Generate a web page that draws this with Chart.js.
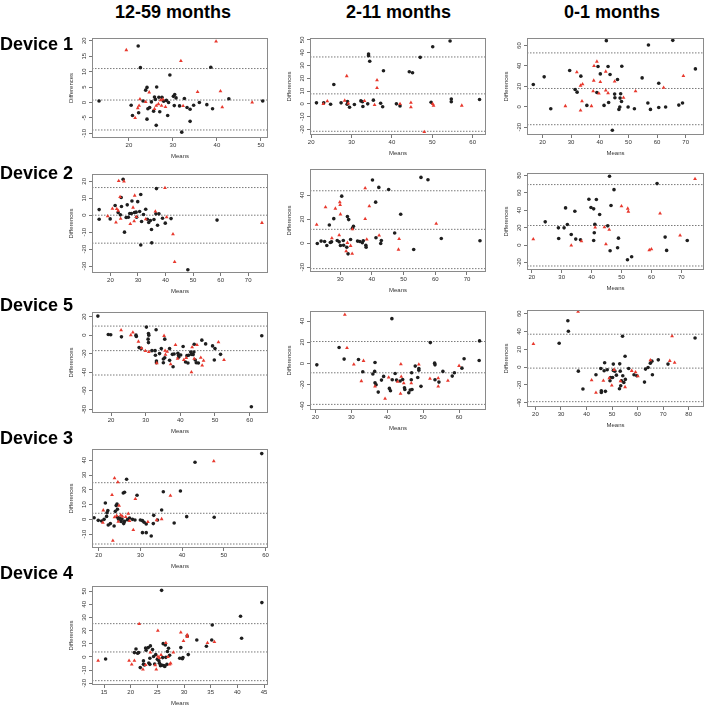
<!DOCTYPE html>
<html>
<head>
<meta charset="utf-8">
<script src="https://cdn.jsdelivr.net/npm/chart.js@4.4.1/dist/chart.umd.min.js"></script>
<style>
  body { margin: 0; background: #fff; width: 707px; height: 709px; position: relative; overflow: hidden;
         font-family: "Liberation Sans", Arial, sans-serif; }
  .lbl { position: absolute; font-weight: bold; font-size: 18px; color: #000; white-space: nowrap; z-index: 2; line-height: 20px; }
  canvas { position: absolute; z-index: 1; }
</style>
</head>
<body>
<div class="lbl" style="left:115px;top:2px">12-59 months</div>
<div class="lbl" style="left:346px;top:2px">2-11 months</div>
<div class="lbl" style="left:564px;top:2px">0-1 months</div>
<div class="lbl" style="left:0px;top:34px">Device 1</div>
<div class="lbl" style="left:0px;top:163px">Device 2</div>
<div class="lbl" style="left:0px;top:295px">Device 5</div>
<div class="lbl" style="left:0px;top:428px">Device 3</div>
<div class="lbl" style="left:0px;top:563px">Device 4</div>
<script>
// ---- data: [mean, difference] pairs, limits of agreement, tick values ----
// Device 1, 12-59 months
var d1a_black = [[22.1,18.3],[22.6,11.3],[38.6,11.4],[29.3,8.9],[24.1,4.9],[26.3,5],[13.2,0.5],[20.5,-0.9],[20.8,-4.2],[22.2,-3.3],[23.8,4],[23.2,0.5],[24.7,-1.6],[24.1,-5.4],[25.6,-2.8],[26,1],[26.2,-7.4],[25.8,1.8],[26.8,1.7],[27.5,1.7],[27.9,0.4],[28.5,0.7],[28.8,-4.2],[29,0],[30.1,2],[30.4,2.6],[30.7,1.5],[30.3,-1],[31.5,-1.1],[32,-9.6],[32.6,1.3],[33.2,-1.6],[33.9,-2.2],[33.9,-6.1],[34.7,-0.9],[36,0],[37.7,-0.7],[39,-2],[42.7,1.2],[50.4,0.5],[24.3,-2],[25.1,0.2],[27,-3]]
var d1a_red = [[19.4,17],[39.8,19.8],[31.8,13.5],[35.6,3.4],[40.8,3.7],[22.5,1.1],[24.6,3.3],[22.3,-1],[22,-1.8],[21.4,-5],[25.8,-2.1],[26.7,-0.5],[27.2,0.8],[27.4,-1],[28.3,-1.4],[27.7,1],[32.3,-1.1],[41.2,-1.5],[48,0],[23.8,0.2],[26.2,-1]]
var d1a_loa = [11.0, 0.8, -8.9]
var d1a_xt = [20, 30, 40, 50]
var d1a_yt = [-10, -5, 0, 5, 10, 15, 20]

// Device 1, 2-11 months
var d1b_black = [[54.4,49.1],[34.2,38.9],[34.2,37.6],[34.5,33.2],[37.9,25.8],[44.3,25.1],[45.1,24.3],[47,36.3],[50.1,44.6],[25.6,15.1],[21.3,0.8],[23.1,0.8],[24.8,-0.3],[27.4,0.8],[29,1.8],[28.9,-0.3],[29.5,-2.6],[30.7,-0.5],[32.3,2.3],[32.7,1.6],[32.8,-2.1],[34,0],[35.4,2.9],[37.2,0.5],[37.7,-2.3],[41.1,0],[42,-1.6],[49.7,1.3],[54.7,3.7],[54.7,1.6],[61.7,3.4]]
var d1b_red = [[28.8,21.7],[36.3,18.5],[36.3,12.5],[28.3,2.6],[24,2.1],[23,0],[33.2,2.3],[35.7,-0.8],[42,0],[44.7,1],[44.7,-2.6],[50.1,0],[50.3,-1.3],[48,-21.9],[57.3,-1.3],[29.2,0.3]]
var d1b_loa = [36.6, 7.8, -21.4]
var d1b_xt = [20, 30, 40, 50, 60]
var d1b_yt = [-20, -10, 0, 10, 20, 30, 40, 50]

// Device 1, 0-1 months
var d1c_black = [[42.3,64.8],[57,60.6],[65.5,65.1],[73.4,37.1],[29.5,35.5],[20.6,29.3],[16.8,21.8],[22.9,-2],[31.4,16.9],[32.1,14.3],[33.4,30],[35.5,1.3],[39,14],[40.2,32.2],[39.4,39.4],[43.6,31.6],[42.9,39.4],[41.5,1.3],[43.1,4.2],[45.2,12.4],[45.3,8.8],[46.2,26.7],[46.7,-2.6],[47,-0.3],[47.1,8.5],[47.3,12.7],[47.6,5.2],[47.7,39.7],[49.9,-0.3],[52.1,-2],[54.8,28.3],[56.8,3.6],[57.7,-2.6],[60.6,23.1],[60.6,-0.7],[63,-0.3],[67.6,1.6],[68.9,3.6],[44.4,-23]]
var d1c_red = [[32,33.9],[33.3,20.8],[34,22.1],[28,0.7],[33.8,5.5],[33.3,-3.6],[37.1,0.7],[37.7,15.3],[37.9,25.7],[38,40.1],[39,44.3],[39.7,13],[40.2,24.4],[42.1,34.5],[42.1,16],[42.9,13.4],[45.2,24.8],[48.3,8.8],[52.5,15.3],[62.3,18.6],[69.2,30.3]]
var d1c_loa = [52.8, 17.9, -17.6]
var d1c_xt = [20, 30, 40, 50, 60, 70]
var d1c_yt = [-20, 0, 20, 40, 60]

// Device 2, 12-59 months
var d2a_black = [[24.6,21.2],[15.9,3.3],[15.9,-2.4],[21.7,5.7],[24,5.1],[26.1,6.1],[27.8,8.4],[29.9,8],[31,12.2],[23.6,0.2],[22.8,1.6],[25.7,-1.4],[26.5,-1.2],[27,1],[27.6,1],[28.7,1.6],[29.3,1.8],[29.5,-1.2],[30.6,2.2],[31.3,-3.7],[32,0.4],[32.8,3.5],[33.4,-2.4],[33.9,-4.3],[34.5,-3.1],[34.9,-8.4],[35,-16.3],[35.8,-2.5],[36.5,0.8],[36.7,15.7],[37.1,-5.9],[37.6,0.8],[38.9,-1.8],[39.9,-4.7],[42,-2],[31,-17.6],[25.1,-10],[48.1,-32.2],[58.7,-2.9],[23.9,10.4],[19.9,-2.2]]
var d2a_red = [[23,20.2],[24.9,20],[23.5,10.8],[28.8,11.6],[39.8,16.1],[20.7,3.9],[22.3,3.7],[19,-0.6],[22,-4.3],[23.7,-2],[28.2,4.5],[28.6,-3.5],[27.2,-5.1],[29.4,-1],[32.8,-2.4],[36.3,2.2],[40.4,-1.2],[42.7,-11.2],[43.3,-27.6],[75,-4.5],[22.8,2.7]]
var d2a_loa = [16.3, 0, -16.5]
var d2a_xt = [20, 30, 40, 50, 60, 70]
var d2a_yt = [-30, -20, -10, 0, 10, 20]

// Device 2, 2-11 months
var d2b_black = [[40.2,52.5],[55.5,54.7],[57.7,52.8],[42.2,46.4],[45.3,44.7],[30.5,39.1],[41.2,34.1],[49.1,24],[28,20.4],[26.6,15.1],[32.7,19.6],[32.3,22.1],[34.2,14],[33.9,12.3],[22.8,-0.3],[24,1.7],[25.1,1.4],[25.8,-2],[26.9,0.6],[27.3,1.1],[29.1,2.2],[29.7,1.1],[30.1,-2],[31,2.2],[31.1,-1.7],[32.1,-3.4],[32.5,-8.9],[33.3,3.1],[35.5,1.7],[36.2,1.4],[37,0.3],[37.3,2],[38.1,-1.7],[38.2,-3.4],[41.3,4.5],[42.8,-0.3],[43,2.2],[47.2,8.4],[53.2,-5.3],[61.9,3.9],[74.1,2]]
var d2b_red = [[37.9,45.8],[22.6,15.4],[25.4,29.9],[28.5,28.8],[29.9,34.1],[30,31.8],[30.1,24],[27.4,4.2],[29.7,6.7],[31.9,-6.7],[32.3,0.3],[33.3,-2.2],[33.8,-8.7],[33.9,11.7],[37.9,20.1],[39.2,30.7],[38.4,3.1],[42.3,6.4],[48.6,3.6],[48.4,-5.3],[60.3,16.2]]
var d2b_loa = [43.6, 11.5, -21.2]
var d2b_xt = [30, 40, 50, 60, 70]
var d2b_yt = [-20, 0, 20, 40]

// Device 2, 0-1 months
var d2c_black = [[46,79],[47.5,63.7],[61.9,70.6],[39.1,52.7],[41.6,52.3],[40.7,41.6],[42.7,35.1],[34.4,38.9],[31.3,42.7],[24.5,26.7],[28.9,19.8],[30.8,19.8],[31.9,23.7],[33.2,12.2],[34.7,6.9],[36.3,6.1],[29,7.6],[40.9,14.1],[40.7,5.3],[39.8,43.1],[41.1,24],[45.4,22.1],[46.2,-6.5],[49,8],[48.7,-3.1],[52,-16.8],[53.4,-13.4],[46.5,45.4],[64.6,9.2],[65.1,-6.1],[72,5.3]]
var d2c_red = [[74.6,76],[20.5,6.9],[33.2,-0.4],[36.6,4.6],[41.2,20.2],[44.3,20.6],[45.9,17.6],[44.8,1.1],[50,44.7],[52.1,42],[52.3,38.5],[62.9,36.3],[59.3,-5.7],[60,-4.6],[69.6,11.1]]
var d2c_loa = [69.5, 22.5, -24]
var d2c_xt = [20, 30, 40, 50, 60, 70]
var d2c_yt = [-20, 0, 20, 40, 60, 80]

// Device 5, 12-59 months
var d5a_black = [[16.2,20.6],[19.2,0.7],[19.9,0.4],[23,-1.8],[27.2,0],[27.3,-1.4],[30.2,8.7],[30.8,1.8],[30.9,0],[33,5.8],[28.1,-13.4],[28.7,-14.5],[30.7,-4.3],[30.8,-8],[31.8,-16.7],[32.7,-16.7],[32.8,-21.7],[33.1,-27.9],[33.1,-29.7],[34,-19.9],[34.5,-14.5],[35.1,-25.7],[35.1,-29.7],[35.5,-4.3],[35.5,-24.3],[36.9,-27.2],[36.9,-14.5],[37.7,-20.7],[37.9,-34.1],[38.2,-20.3],[39.5,-23.9],[39.5,-21.7],[40.1,-21.4],[40.8,-12.3],[41.5,-29],[41.9,-22.1],[42.2,-30.1],[42.4,-21.7],[43,-18.1],[43.2,-20.7],[43.7,-21],[43.9,-18.1],[44,-9.8],[44.3,-26.8],[44.6,-29.7],[45.2,-30.1],[46.2,-5.4],[47.3,-9.4],[49.3,-11.6],[49.8,-26.8],[50,-14.5],[51.6,-20.7],[60.5,-77.2],[63.5,-0.7],[39.3,-19.6]]
var d5a_red = [[22.9,5.4],[25.7,0],[26.3,2.9],[27.9,-6.9],[28.8,-14.1],[29.9,-17],[30.9,-18.1],[33.2,-30.1],[35.3,-0.7],[35.6,-16.7],[35.7,-21],[36.2,-17.8],[38.6,-10.5],[37.2,-31.2],[39.2,-25.4],[41.7,-24.6],[43.2,-39.9],[43.4,-13],[44,-25.4],[44.8,-10.5],[45.9,-24.3],[46.3,-32.6],[46.7,-27.5],[51,-7.6],[52.6,-26.8],[41,-26.8]]
var d5a_loa = [9.8, -16.7, -43]
var d5a_xt = [20, 30, 40, 50, 60]
var d5a_yt = [-80, -60, -40, -20, 0, 20]

// Device 5, 2-11 months
var d5b_black = [[41.3,42.3],[20.4,-1.3],[26.6,15],[28,4.1],[32,3.8],[33.2,-7.8],[36,-10],[36.6,0.9],[36.5,-7.5],[36.6,-18.2],[36.9,-20.1],[37.5,-27],[38.4,-15.7],[39,-12.2],[40.6,-23.5],[40.9,-25.7],[41.4,-15.4],[42.2,-9.4],[42.6,-15.7],[43.6,-16.6],[44.8,-22.9],[44.9,-24.5],[46,-27.6],[46.4,-25.1],[46.7,-15.4],[46.8,-8.8],[46.9,-24.5],[47.8,-2.5],[48.5,-13.2],[48.8,-6.3],[48.8,-4.7],[49.4,-21.6],[52,19.7],[53.2,0.3],[53.3,-1.3],[53.3,-15.4],[54.4,-17.6],[55.5,-7.5],[58.1,-11.9],[58.7,-8.8],[60.8,-4.4],[61.4,4.4],[65.6,2.8],[65.7,21.3],[44.3,-15.1]]
var d5b_red = [[28.2,46],[28.8,14.7],[30.7,-0.9],[33.4,2.5],[32.8,-16.6],[36.6,-21.6],[39.4,-33.2],[40.4,-13.2],[43.8,-0.6],[43.9,-12.5],[44.6,-18.5],[43.7,-28.5],[46.7,-18.5],[48.8,-0.9],[51.9,-14.4],[54.2,-13.8],[54.2,-21.6],[56.9,-16.3],[60,-2.2],[42.9,-17.2]]
var d5b_loa = [20.7, -8.8, -38.6]
var d5b_xt = [20, 30, 40, 50, 60]
var d5b_yt = [-40, -20, 0, 20, 40]

// Device 5, 0-1 months
var d5c_black = [[32.7,52.2],[32.9,40.3],[54.1,34.7],[29.3,26.9],[82.5,32.8],[55.1,12.3],[47.1,4.9],[50.5,3.4],[36.8,-4.5],[43.7,-8.6],[45.8,-28.4],[45.6,-1.5],[45.8,-26.5],[46.9,-4.1],[47.4,-27.2],[48.1,-3],[49.2,-15.3],[49.4,-11.6],[50.2,-11.6],[50.5,-3.7],[51.1,-4.5],[51.7,-9],[53,3.7],[53.2,-4.5],[53.7,-15.3],[53.4,-20.9],[52.9,-24.3],[54.2,-9.7],[54.6,-17.2],[55.2,-13.8],[56.5,-1.5],[58.6,-8.6],[59.7,-9.7],[62.7,-16.8],[63.1,-2.2],[64.1,-0.4],[65,4.5],[65.6,6.7],[65.8,-8.6],[68.1,8.2],[71.9,3.4],[38.6,-24.6]]
var d5c_red = [[36.7,62.3],[19.2,26.1],[73.5,34.7],[42,-14.6],[46.6,-15.3],[48.9,-12.3],[49.9,-20.5],[43.7,-28.7],[50.8,-3],[53.3,-15.7],[55.1,-22.4],[57.7,-4.1],[59.2,-5.6],[60.1,-10.1],[65,7.8],[72.6,7.1],[74.5,4.9]]
var d5c_loa = [37, -1.1, -38.8]
var d5c_xt = [20, 30, 40, 50, 60, 70, 80]
var d5c_yt = [-40, -20, 0, 20, 40, 60]

// Device 3, 12-59 months
var d3a_black = [[59.1,44.5],[43.1,38.6],[26.7,27.1],[21.6,11.1],[22.2,5.9],[22,4.5],[18.9,1.1],[19.9,-0.7],[20.7,-1.1],[21.3,0],[22.3,-3.8],[22.8,-2.9],[24,5.4],[24.2,9.3],[24.4,10.4],[24.5,6.8],[24.5,1.4],[24.8,0],[25.1,0.9],[25.4,-1.4],[25.6,0.2],[26,-2.9],[25.9,17.8],[26.2,18.3],[26.2,-1.4],[26.9,-0.2],[29.2,16.3],[28.1,0],[28.7,-0.5],[30,-0.5],[30.5,-0.9],[30.5,-9],[30.9,-2],[31.4,-3.2],[31.4,-9],[32.6,-11.3],[33.1,-2.9],[33.2,2.7],[34.1,-0.5],[35.1,6.3],[35.5,18.7],[38.1,-2.5],[39.6,19.2],[41.1,1.8],[47.7,1.4],[23.7,-4.5],[27.4,0.9],[21.9,2]]
var d3a_red = [[47.6,39.3],[23.8,27.8],[24.6,25.1],[23.2,16.5],[21.1,6.1],[21,-2.3],[23.4,-14.4],[23.8,1.4],[24.3,2.5],[24.7,-1.6],[24.9,9.3],[25.3,2.9],[25.7,2],[27.1,3.8],[27.4,-1.1],[28.3,-7.2],[28.8,13.8],[31.8,-1.8],[33.9,-0.5],[35.1,0.2],[37.2,16],[26.5,1.6]]
var d3a_loa = [24.8, 4.1, -16.7]
var d3a_xt = [20, 30, 40, 50, 60]
var d3a_yt = [-10, 0, 10, 20, 30, 40]

// Device 4, 12-59 months
var d4a_black = [[25.8,50.6],[44.6,41.3],[40.6,30.9],[35.3,24.3],[15.3,-1.5],[20.7,3.3],[21,6.1],[21.3,2.8],[21.5,3.3],[21.8,-8.1],[22.4,-3],[22.6,-6.1],[22.8,6.8],[22.9,5.1],[23.3,7.1],[23.4,-4.6],[23.6,-1],[23.7,8.4],[23.6,-5.6],[24.1,5.6],[24.3,0.3],[24.5,-5.3],[24.7,1.8],[25,-1.8],[25.3,-3],[25.4,-4.8],[25.6,-6.6],[25.8,-6.1],[26,-0.5],[26.1,10.1],[26.2,-6.6],[26.4,-7.3],[26.6,-0.3],[26.8,-5.6],[26.9,4.1],[27.1,6.6],[27.3,1.3],[29.2,-1],[29.4,7.1],[29.7,-1.3],[29.8,-0.5],[30.6,15.9],[30.8,1.8],[32.4,12.9],[34.2,8.1],[35.2,12.9],[40.8,14.2],[26.5,9.1],[22.4,-5.6]]
var d4a_red = [[13.9,-2.8],[19.7,-2.8],[20.2,-5.6],[20.7,-2.8],[21.6,25.1],[22.3,-9.4],[22.8,-6.1],[23.7,3.5],[24.6,-6.3],[24.8,-9.4],[25.1,20],[25.1,0.3],[25.4,-0.8],[25.7,1.5],[26.6,10.6],[27,0],[27.3,-5.6],[27.5,-4.8],[28,3.5],[29.4,18.7],[29.9,12.2],[30.6,16.7],[30.6,15.2],[34.4,10.6],[35.7,11.4]]
var d4a_loa = [25.3, 3.8, -18]
var d4a_xt = [15, 20, 25, 30, 35, 40, 45]
var d4a_yt = [-20, -10, 0, 10, 20, 30, 40, 50]

// ---- layout: plot box on the page [left, top, right, bottom] and axis ranges ----
var panels = [
  { box: [92, 38, 269, 138],  xr: [11.6, 51.6],  yr: [-11.5, 20.9], black: d1a_black, red: d1a_red, loa: d1a_loa, xt: d1a_xt, yt: d1a_yt },
  { box: [310, 38, 487, 135], xr: [19.7, 63.3],  yr: [-24.3, 51.4], black: d1b_black, red: d1b_red, loa: d1b_loa, xt: d1b_xt, yt: d1b_yt },
  { box: [527, 38, 705, 135], xr: [14.6, 76.4],  yr: [-27.7, 67.4], black: d1c_black, red: d1c_red, loa: d1c_loa, xt: d1c_xt, yt: d1c_yt },
  { box: [92, 174, 269, 273], xr: [13.3, 77.2],  yr: [-34.1, 24.3], black: d2a_black, red: d2a_red, loa: d2a_loa, xt: d2a_xt, yt: d2a_yt },
  { box: [310, 169, 487, 272], xr: [20.5, 76],   yr: [-24, 61.7],   black: d2b_black, red: d2b_red, loa: d2b_loa, xt: d2b_xt, yt: d2b_yt },
  { box: [527, 173, 705, 270], xr: [18.4, 77.6], yr: [-28.6, 82.8], black: d2c_black, red: d2c_red, loa: d2c_loa, xt: d2c_xt, yt: d2c_yt },
  { box: [92, 312, 269, 413], xr: [14.5, 65.3],  yr: [-84, 25],     black: d5a_black, red: d5a_red, loa: d5a_loa, xt: d5a_xt, yt: d5a_yt },
  { box: [310, 311, 487, 410], xr: [18.5, 67.5], yr: [-43.9, 49.5], black: d5b_black, red: d5b_red, loa: d5b_loa, xt: d5b_xt, yt: d5b_yt },
  { box: [527, 310, 705, 407], xr: [16.7, 86],   yr: [-44.8, 64.2], black: d5c_black, red: d5c_red, loa: d5c_loa, xt: d5c_xt, yt: d5c_yt },
  { box: [92, 449, 269, 548], xr: [18.4, 60.6],  yr: [-19.4, 47.6], black: d3a_black, red: d3a_red, loa: d3a_loa, xt: d3a_xt, yt: d3a_yt },
  { box: [92, 586, 269, 685], xr: [12.75, 45.75], yr: [-21.3, 53.9], black: d4a_black, red: d4a_red, loa: d4a_loa, xt: d4a_xt, yt: d4a_yt }
]

Chart.defaults.font.family = "'Liberation Sans', Arial, sans-serif"
Chart.defaults.font.size = 6
Chart.defaults.color = "#333"

// box around the plot region and R-style vertical y tick labels
var frame = {
  id: "frame",
  afterDatasetsDraw: function (chart) {
    var a = chart.chartArea, c = chart.ctx
    c.save()
    c.strokeStyle = "#8a8a8a"
    c.lineWidth = 1
    c.strokeRect(Math.round(a.left) + 0.5, Math.round(a.top) + 0.5, Math.round(a.right - a.left) - 1, Math.round(a.bottom - a.top) - 1)
    c.restore()
  },
  afterDraw: function (chart) {
    var s = chart.scales.y, c = chart.ctx
    c.save()
    c.font = "6px 'Liberation Sans', Arial, sans-serif"
    c.fillStyle = "#333"
    c.textAlign = "center"
    c.textBaseline = "middle"
    s.ticks.forEach(function (t) {
      c.save()
      c.translate(s.right - 8, s.getPixelForValue(t.value))
      c.rotate(-Math.PI / 2)
      c.fillText(String(t.value), 0, 0)
      c.restore()
    })
    c.restore()
  }
}

var padL = 30, padT = 4, padR = 3, padB = 26

function blandAltman (p) {
  var w = p.box[2] - p.box[0] + padL + padR
  var h = p.box[3] - p.box[1] + padT + padB
  var cv = document.createElement("canvas")
  cv.width = w
  cv.height = h
  cv.style.left = (p.box[0] - padL) + "px"
  cv.style.top = (p.box[1] - padT) + "px"
  cv.style.width = w + "px"
  cv.style.height = h + "px"
  document.body.appendChild(cv)

  var datasets = p.loa.map(function (v) {
    return {
      data: [[p.xr[0], v], [p.xr[1], v]],
      showLine: true,
      borderColor: "#7a7a7a",
      borderWidth: 1,
      borderDash: [1.5, 1.5],
      pointRadius: 0,
      order: 3
    }
  })
  datasets.push({
    data: p.black,
    pointStyle: "circle",
    pointRadius: 1.8,
    backgroundColor: "#1e1e1e",
    borderWidth: 0,
    order: 2
  })
  datasets.push({
    data: p.red,
    pointStyle: "triangle",
    pointRadius: 2.2,
    backgroundColor: "#e8392e",
    borderWidth: 0,
    order: 1
  })

  new Chart(cv, {
    type: "scatter",
    data: { datasets: datasets },
    options: {
      responsive: false,
      animation: false,
      events: [],
      layout: { padding: { top: padT, right: padR, left: 0, bottom: 0 } },
      plugins: { legend: { display: false }, tooltip: { enabled: false } },
      scales: {
        x: {
          type: "linear",
          min: p.xr[0],
          max: p.xr[1],
          afterBuildTicks: function (s) { s.ticks = p.xt.map(function (v) { return { value: v } }) },
          afterFit: function (s) { s.height = padB },
          grid: { drawOnChartArea: false, drawTicks: true, tickLength: 3, color: "#777" },
          border: { display: false },
          ticks: { padding: 1, maxRotation: 0, autoSkip: false, color: "#333" },
          title: { display: true, text: "Means", color: "#333", padding: { top: 0, bottom: 4 } }
        },
        y: {
          type: "linear",
          min: p.yr[0],
          max: p.yr[1],
          afterBuildTicks: function (s) { s.ticks = p.yt.map(function (v) { return { value: v } }) },
          afterFit: function (s) { s.width = padL },
          grid: { drawOnChartArea: false, drawTicks: true, tickLength: 3, color: "#777" },
          border: { display: false },
          ticks: { display: false, autoSkip: false },
          title: { display: true, text: "Differences", color: "#333", padding: { top: 6, bottom: 0 } }
        }
      }
    },
    plugins: [frame]
  })
}

panels.forEach(blandAltman)
</script>
</body>
</html>
